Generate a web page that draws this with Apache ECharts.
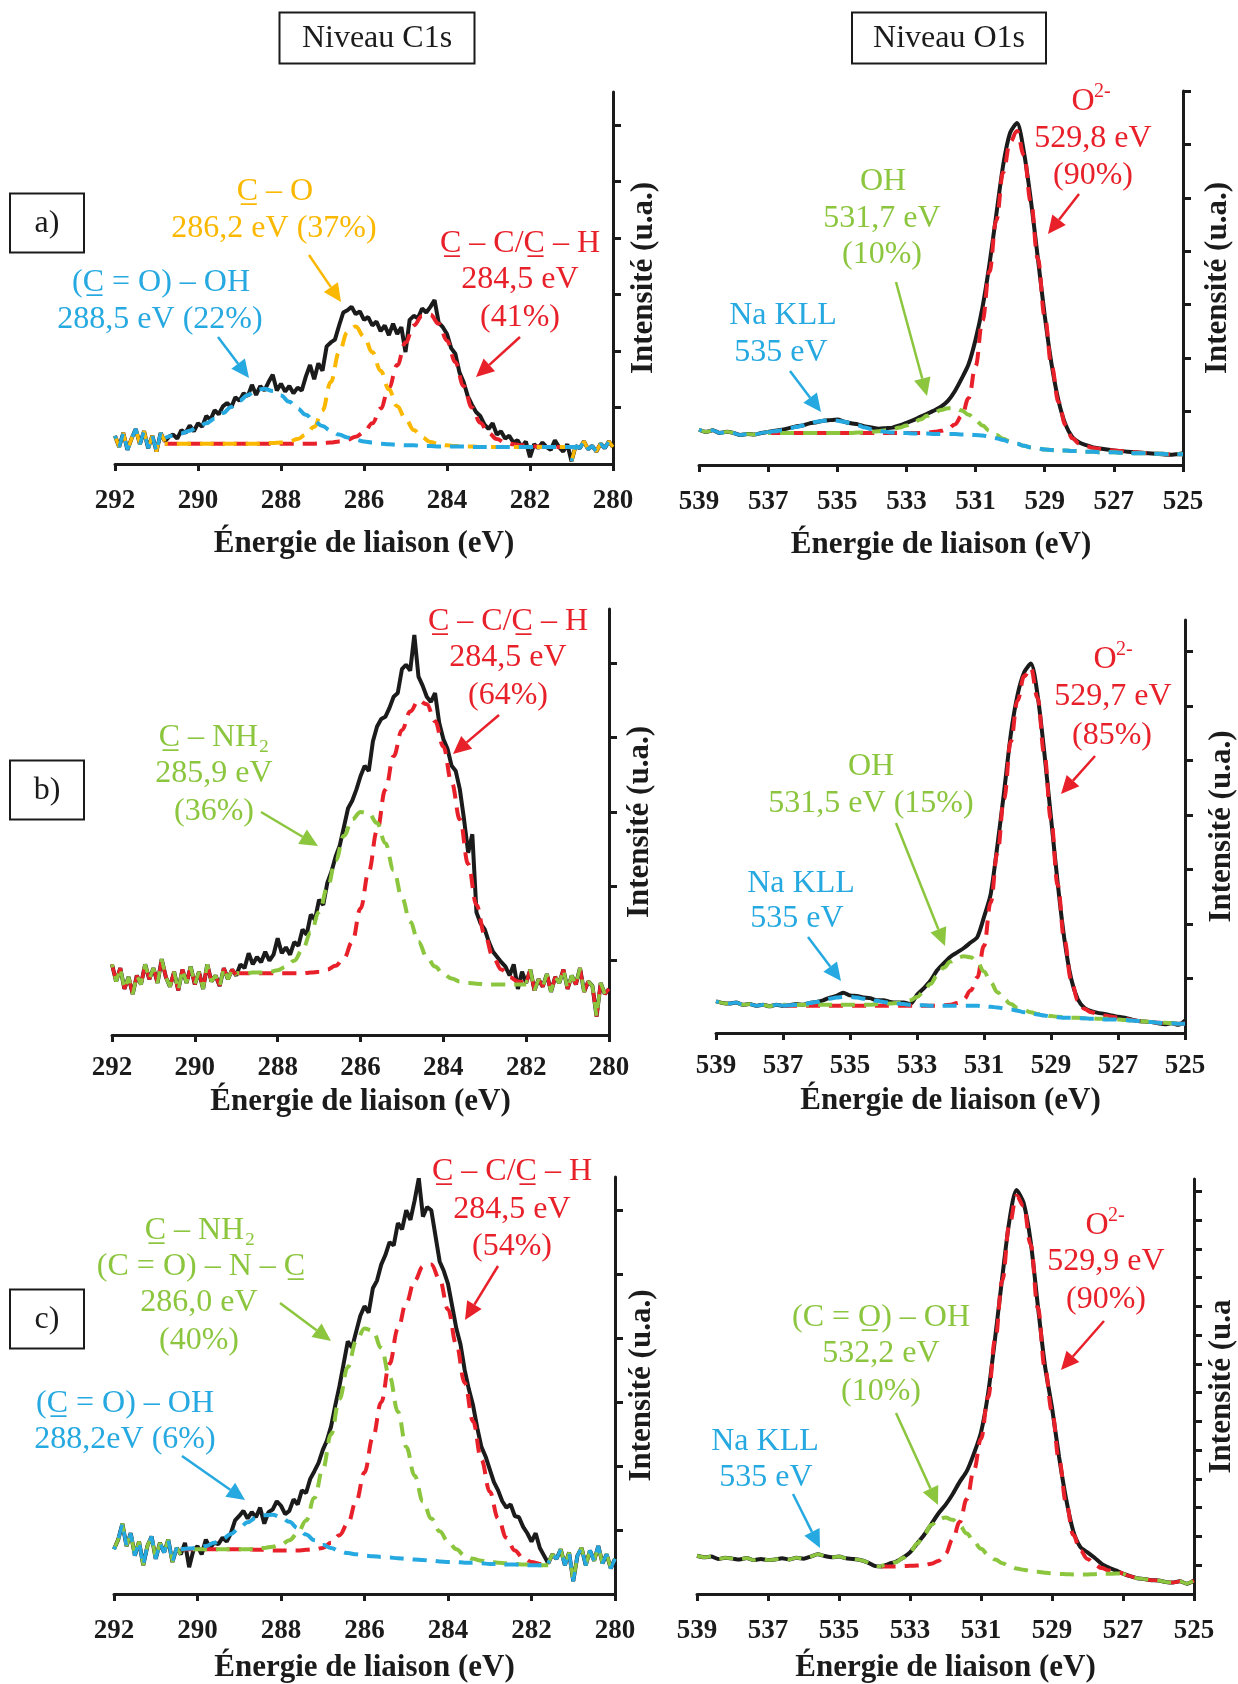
<!DOCTYPE html>
<html>
<head>
<meta charset="utf-8">
<script src="https://cdn.jsdelivr.net/npm/echarts@6/dist/echarts.min.js"></script>
<style>
  html, body { margin: 0; padding: 0; background: #fff; }
  #chart { width: 1238px; height: 1684px; }
</style>
</head>
<body>
<div id="chart"></div>
<script>
// x tick labels
const C1S_TICKS = [292, 290, 288, 286, 284, 282, 280];
const O1S_TICKS = [539, 537, 535, 533, 531, 529, 527, 525];

// ---- a) C1s : raw spectrum 292 -> 280 eV, step 0.1
const c1sA = [
  0.50, 0.30, 0.55, 0.25, 0.45, 0.62, 0.35, 0.58, 0.28, 0.50,
  0.22, 0.55, 0.40, 0.48, 0.52, 0.45, 0.60, 0.55, 0.68, 0.58,
  0.72, 0.66, 0.85, 0.78, 0.95, 0.88, 1.02, 1.08, 1.00, 1.18,
  1.12, 1.25, 1.20, 1.40, 1.22, 1.38, 1.30, 1.45, 1.58, 1.30,
  1.42, 1.28, 1.38, 1.25, 1.35, 1.30, 1.55, 1.75, 1.50, 1.78,
  1.65, 2.08, 2.15, 2.20, 2.45, 2.68, 2.72, 2.78, 2.65, 2.70,
  2.55, 2.60, 2.45, 2.52, 2.35, 2.45, 2.28, 2.48, 2.30, 2.42,
  1.98, 2.55, 2.62, 2.58, 2.75, 2.68, 2.78, 2.90, 2.50, 2.42,
  2.30, 2.05, 1.95, 1.62, 1.45, 1.20, 1.05, 0.92, 0.85, 0.70,
  0.62, 0.72, 0.52, 0.58, 0.45, 0.50, 0.38, 0.42, 0.30, 0.40,
  0.12, 0.35, 0.28, 0.38, 0.30, 0.25, 0.42, 0.30, 0.22, 0.35,
  0.05, 0.32, 0.28, 0.40, 0.26, 0.32, 0.22, 0.36, 0.28, 0.40,
  0.30
];
// fitted components 290.8 -> 280.8, step 0.2
const c1sA_COOH = [
  0.46, 0.50, 0.54, 0.59, 0.65, 0.72, 0.80, 0.90, 1.01, 1.12,
  1.22, 1.31, 1.33, 1.29, 1.21, 1.10, 0.98, 0.87, 0.76, 0.67,
  0.59, 0.52, 0.47, 0.43, 0.40, 0.38, 0.36, 0.35, 0.34, 0.33,
  0.33, 0.32, 0.32, 0.31, 0.31, 0.31, 0.31, 0.30, 0.30, 0.30,
  0.30, 0.30, 0.30, 0.30, 0.30, 0.30, 0.30, 0.30, 0.30, 0.30,
  0.30
];
const c1sA_CO = [
  0.36, 0.36, 0.36, 0.36, 0.36, 0.36, 0.36, 0.36, 0.36, 0.36,
  0.36, 0.36, 0.37, 0.37, 0.38, 0.40, 0.44, 0.52, 0.66, 0.95,
  1.45, 1.98, 2.33, 2.43, 2.25, 1.98, 1.65, 1.32, 1.02, 0.80,
  0.60, 0.47, 0.39, 0.35, 0.33, 0.32, 0.31, 0.31, 0.30, 0.30,
  0.30, 0.30, 0.30, 0.30, 0.30, 0.30, 0.30, 0.30, 0.30, 0.30,
  0.30
];
const c1sA_CC = [
  0.36, 0.36, 0.36, 0.36, 0.36, 0.36, 0.36, 0.36, 0.36, 0.36,
  0.36, 0.36, 0.36, 0.36, 0.36, 0.36, 0.36, 0.36, 0.36, 0.37,
  0.38, 0.40, 0.43, 0.48, 0.56, 0.72, 0.98, 1.35, 1.75, 2.15,
  2.45, 2.62, 2.64, 2.48, 2.18, 1.80, 1.38, 1.00, 0.73, 0.55,
  0.44, 0.38, 0.35, 0.33, 0.32, 0.31, 0.30, 0.30, 0.30, 0.30,
  0.30
];

// ---- a) O1s : raw 539 -> 525 eV, step 0.2
const o1sA = [
  0.66, 0.62, 0.65, 0.60, 0.62, 0.60, 0.56, 0.58, 0.57, 0.60,
  0.62, 0.64, 0.66, 0.69, 0.72, 0.74, 0.78, 0.80, 0.83, 0.84,
  0.85, 0.81, 0.78, 0.76, 0.72, 0.70, 0.68, 0.69, 0.70, 0.74,
  0.79, 0.84, 0.90, 0.96, 1.02, 1.09, 1.20, 1.38, 1.62, 1.89,
  2.35, 2.95, 3.75, 4.69, 5.62, 6.22, 6.40, 5.85, 4.95, 3.88,
  2.80, 1.88, 1.20, 0.76, 0.52, 0.42, 0.37, 0.33, 0.31, 0.29,
  0.27, 0.26, 0.25, 0.24, 0.23, 0.22, 0.21, 0.20, 0.19, 0.20,
  0.22
];
// components 537 -> 525, step 0.2
const o1sA_O2 = [
  0.60, 0.60, 0.60, 0.60, 0.60, 0.60, 0.60, 0.60, 0.60, 0.60,
  0.60, 0.60, 0.60, 0.60, 0.60, 0.60, 0.60, 0.60, 0.60, 0.60,
  0.60, 0.60, 0.60, 0.61, 0.62, 0.64, 0.68, 0.76, 0.92, 1.25,
  1.85, 2.70, 3.62, 4.58, 5.48, 6.05, 6.25, 5.80, 4.92, 3.86,
  2.78, 1.85, 1.18, 0.75, 0.50, 0.40, 0.35, 0.32, 0.30, 0.28,
  0.27, 0.26, 0.25, 0.24, 0.23, 0.22, 0.21, 0.21, 0.20, 0.20,
  0.20
];
const o1sA_OH = [
  0.60, 0.60, 0.60, 0.60, 0.60, 0.60, 0.60, 0.60, 0.60, 0.60,
  0.60, 0.60, 0.60, 0.61, 0.61, 0.62, 0.63, 0.65, 0.67, 0.70,
  0.74, 0.79, 0.85, 0.92, 0.98, 1.03, 1.06, 1.06, 1.02, 0.94,
  0.84, 0.74, 0.64, 0.56, 0.49, 0.44, 0.40, 0.36, 0.33, 0.31,
  0.29, 0.28, 0.27, 0.27, 0.26, 0.26, 0.25, 0.25, 0.24, 0.24,
  0.24, 0.23, 0.23, 0.22, 0.22, 0.22, 0.21, 0.21, 0.20, 0.20,
  0.20
];
const o1sA_Na = [
  0.61, 0.63, 0.65, 0.68, 0.71, 0.74, 0.78, 0.81, 0.83, 0.84,
  0.83, 0.81, 0.78, 0.74, 0.70, 0.67, 0.64, 0.62, 0.61, 0.60,
  0.60, 0.59, 0.59, 0.59, 0.58, 0.58, 0.58, 0.58, 0.57, 0.57,
  0.56, 0.55, 0.53, 0.50, 0.47, 0.43, 0.40, 0.36, 0.33, 0.31,
  0.29, 0.28, 0.27, 0.27, 0.26, 0.26, 0.25, 0.25, 0.24, 0.24,
  0.24, 0.23, 0.23, 0.22, 0.22, 0.22, 0.21, 0.21, 0.20, 0.20,
  0.20
];

// ---- b) C1s raw 292 -> 280, step 0.1
const c1sB = [
  0.95, 0.72, 0.90, 0.62, 0.78, 0.55, 0.80, 0.68, 0.95, 0.75,
  0.90, 0.70, 1.02, 0.78, 0.65, 0.85, 0.60, 0.88, 0.70, 0.92,
  0.68, 0.85, 0.62, 0.95, 0.72, 0.80, 0.66, 0.90, 0.75, 0.88,
  0.80, 0.95, 0.90, 1.10, 0.95, 1.05, 0.98, 1.12, 1.00, 1.08,
  1.30, 1.10, 1.18, 1.08, 1.25, 1.20, 1.42, 1.35, 1.62, 1.55,
  1.82, 1.75, 2.05, 2.20, 2.40, 2.55, 2.80, 3.05, 3.15, 3.30,
  3.48, 3.62, 3.55, 3.95, 4.15, 4.25, 4.28, 4.40, 4.55, 4.60,
  4.92, 4.98, 4.90, 5.38, 4.82, 4.70, 4.55, 4.48, 4.60, 4.20,
  3.98, 3.85, 3.62, 3.55, 3.30, 2.90, 2.45, 2.70, 1.65, 1.50,
  1.42, 1.25, 1.12, 1.05, 0.98, 0.92, 0.80, 0.95, 0.62, 0.85,
  0.70, 0.88, 0.60, 0.75, 0.65, 0.82, 0.58, 0.78, 0.70, 0.88,
  0.62, 0.80, 0.68, 0.90, 0.58, 0.72, 0.66, 0.25, 0.70, 0.55,
  0.62
];
// components 289 -> 282, step 0.2
const c1sB_CN = [
  0.83, 0.83, 0.84, 0.84, 0.85, 0.87, 0.92, 1.00, 1.15, 1.38,
  1.65, 1.98, 2.35, 2.68, 2.90, 3.00, 2.98, 2.85, 2.58, 2.22,
  1.85, 1.52, 1.25, 1.05, 0.92, 0.82, 0.76, 0.72, 0.70, 0.69,
  0.68, 0.68, 0.68, 0.68, 0.68, 0.68
];
const c1sB_CC = [
  0.83, 0.83, 0.83, 0.83, 0.83, 0.83, 0.83, 0.83, 0.83, 0.84,
  0.85, 0.88, 0.93, 1.03, 1.25, 1.70, 2.20, 2.75, 3.30, 3.75,
  4.10, 4.35, 4.50, 4.45, 4.22, 3.88, 3.40, 2.90, 2.30, 1.75,
  1.35, 1.05, 0.88, 0.78, 0.72, 0.70
];

// ---- b) O1s raw 539 -> 525, step 0.2
const o1sB = [
  0.58, 0.55, 0.54, 0.56, 0.52, 0.53, 0.50, 0.52, 0.49, 0.52,
  0.50, 0.51, 0.53, 0.52, 0.55, 0.57, 0.60, 0.65, 0.68, 0.74,
  0.69, 0.68, 0.65, 0.64, 0.60, 0.60, 0.57, 0.56, 0.56, 0.53,
  0.70, 0.82, 0.96, 1.15, 1.28, 1.40, 1.48, 1.56, 1.66, 1.76,
  2.13, 2.55, 3.44, 4.43, 5.48, 6.20, 6.62, 6.78, 6.20, 5.15,
  3.95, 2.75, 1.72, 1.00, 0.62, 0.46, 0.40, 0.37, 0.35, 0.32,
  0.30, 0.28, 0.25, 0.22, 0.21, 0.20, 0.18, 0.16, 0.18, 0.15,
  0.23
];
// components 537 -> 525, step 0.2
const o1sB_O2 = [
  0.50, 0.50, 0.50, 0.50, 0.50, 0.50, 0.50, 0.50, 0.50, 0.50,
  0.50, 0.50, 0.50, 0.50, 0.50, 0.50, 0.50, 0.50, 0.50, 0.50,
  0.50, 0.50, 0.50, 0.50, 0.51, 0.52, 0.55, 0.62, 0.78, 1.02,
  1.60, 2.40, 3.30, 4.30, 5.35, 6.10, 6.55, 6.70, 6.15, 5.12,
  3.92, 2.72, 1.70, 0.98, 0.60, 0.44, 0.38, 0.35, 0.32, 0.30,
  0.28, 0.26, 0.24, 0.22, 0.21, 0.20, 0.19, 0.18, 0.18, 0.17,
  0.17
];
const o1sB_OH = [
  0.52, 0.52, 0.52, 0.52, 0.52, 0.52, 0.52, 0.52, 0.52, 0.52,
  0.52, 0.52, 0.52, 0.52, 0.53, 0.53, 0.54, 0.55, 0.57, 0.60,
  0.66, 0.76, 0.90, 1.05, 1.20, 1.31, 1.38, 1.41, 1.39, 1.30,
  1.13, 0.93, 0.75, 0.62, 0.53, 0.46, 0.42, 0.38, 0.35, 0.33,
  0.31, 0.30, 0.29, 0.28, 0.28, 0.27, 0.27, 0.26, 0.26, 0.26,
  0.25, 0.24, 0.23, 0.22, 0.21, 0.20, 0.19, 0.19, 0.18, 0.18,
  0.18
];
const o1sB_Na = [
  0.50, 0.51, 0.52, 0.53, 0.55, 0.57, 0.60, 0.63, 0.65, 0.66,
  0.66, 0.65, 0.63, 0.61, 0.59, 0.57, 0.55, 0.54, 0.53, 0.52,
  0.51, 0.51, 0.50, 0.50, 0.50, 0.50, 0.50, 0.50, 0.50, 0.50,
  0.49, 0.48, 0.47, 0.45, 0.43, 0.41, 0.38, 0.36, 0.34, 0.32,
  0.30, 0.29, 0.28, 0.28, 0.27, 0.27, 0.26, 0.26, 0.25, 0.25,
  0.25, 0.24, 0.23, 0.22, 0.21, 0.20, 0.19, 0.18, 0.18, 0.17,
  0.17
];

// ---- c) C1s raw 292 -> 280, step 0.1
const c1sC = [
  0.70, 0.85, 1.10, 0.75, 0.95, 0.60, 0.82, 0.45, 0.75, 0.90,
  0.55, 0.80, 0.65, 0.85, 0.50, 0.72, 0.62, 0.80, 0.42, 0.68,
  0.75, 0.62, 0.85, 0.72, 0.80, 0.78, 0.88, 0.82, 0.95, 1.15,
  1.22, 1.30, 1.18, 1.28, 1.20, 1.35, 1.10, 1.28, 1.32, 1.45,
  1.38, 1.25, 1.30, 1.48, 1.40, 1.62, 1.58, 1.80, 1.92, 2.05,
  2.25, 2.40, 2.62, 2.95, 3.25, 3.60, 3.95, 3.85, 4.10, 4.35,
  4.50, 4.40, 4.78, 4.90, 5.15, 5.30, 5.50, 5.45, 5.80, 5.70,
  6.00, 5.85, 6.15, 6.50, 5.90, 6.05, 6.00, 5.60, 5.20, 5.05,
  4.85, 4.50, 4.15, 3.90, 3.50, 3.20, 2.95, 2.60, 2.30, 2.15,
  1.95, 1.75, 1.62, 1.45, 1.35, 1.40, 1.22, 1.20, 1.05, 0.95,
  0.82, 0.95, 0.72, 0.60, 0.48, 0.62, 0.55, 0.70, 0.45, 0.65,
  0.20, 0.60, 0.72, 0.45, 0.68, 0.52, 0.75, 0.48, 0.62, 0.40,
  0.55
];
// components 290.4 -> 281.6, step 0.2
const c1sC_COOH = [
  0.70, 0.71, 0.72, 0.75, 0.80, 0.86, 0.94, 1.03, 1.12, 1.19,
  1.23, 1.24, 1.20, 1.13, 1.03, 0.93, 0.84, 0.77, 0.72, 0.67,
  0.64, 0.62, 0.60, 0.59, 0.58, 0.57, 0.56, 0.55, 0.54, 0.53,
  0.52, 0.51, 0.50, 0.50, 0.49, 0.49, 0.48, 0.47, 0.47, 0.46,
  0.46, 0.45, 0.45, 0.45, 0.45
];
const c1sC_CN = [
  0.70, 0.70, 0.70, 0.70, 0.70, 0.70, 0.70, 0.70, 0.70, 0.71,
  0.72, 0.74, 0.77, 0.84, 0.95, 1.15, 1.50, 1.95, 2.50, 3.05,
  3.55, 3.95, 4.15, 4.12, 3.85, 3.40, 2.85, 2.30, 1.85, 1.45,
  1.18, 0.98, 0.82, 0.70, 0.60, 0.55, 0.52, 0.50, 0.49, 0.48,
  0.47, 0.46, 0.46, 0.45, 0.45
];
const c1sC_CC = [
  0.70, 0.70, 0.70, 0.70, 0.70, 0.70, 0.70, 0.70, 0.70, 0.69,
  0.69, 0.68, 0.68, 0.68, 0.68, 0.69, 0.70, 0.72, 0.80, 0.92,
  1.10, 1.45, 1.90, 2.45, 3.00, 3.60, 4.15, 4.55, 4.90, 5.12,
  5.15, 4.92, 4.45, 3.90, 3.30, 2.70, 2.10, 1.60, 1.18, 0.88,
  0.68, 0.56, 0.50, 0.47, 0.45
];

// ---- c) O1s raw 539 -> 525, step 0.2
const o1sC = [
  1.33, 1.28, 1.30, 1.22, 1.26, 1.23, 1.20, 1.25, 1.18, 1.22,
  1.18, 1.20, 1.24, 1.20, 1.26, 1.23, 1.30, 1.38, 1.32, 1.28,
  1.30, 1.24, 1.22, 1.18, 1.10, 0.98, 0.96, 1.05, 1.12, 1.26,
  1.45, 1.75, 2.06, 2.43, 2.80, 3.10, 3.47, 3.90, 4.27, 4.88,
  5.62, 6.97, 8.93, 11.02, 12.98, 14.05, 13.60, 12.25, 10.04, 7.95,
  6.48, 4.76, 3.29, 2.18, 1.63, 1.45, 1.26, 1.05, 0.92, 0.82,
  0.71, 0.62, 0.55, 0.52, 0.48, 0.47, 0.42, 0.40, 0.44, 0.36,
  0.47
];
// components 533.8 -> 527.0, step 0.2
const o1sC_COOH = [
  0.98, 1.02, 1.10, 1.25, 1.45, 1.75, 2.08, 2.40, 2.60, 2.66,
  2.58, 2.38, 2.10, 1.82, 1.57, 1.37, 1.20, 1.07, 0.97, 0.89,
  0.84, 0.80, 0.77, 0.74, 0.72, 0.70, 0.69, 0.68, 0.68, 0.68,
  0.69, 0.70, 0.70, 0.71, 0.71
];
const o1sC_O2 = [
  0.96, 0.96, 0.96, 0.97, 0.98, 0.99, 1.01, 1.05, 1.15, 1.40,
  1.90, 2.50, 3.30, 4.30, 5.40, 6.85, 8.85, 10.90, 12.85, 13.85,
  13.50, 12.15, 9.95, 7.85, 6.35, 4.65, 3.15, 2.05, 1.50, 1.22,
  1.02, 0.90, 0.82, 0.76, 0.71
];

const BLACK = '#1b1b1b', RED = '#e8202a', YEL = '#fbb800', BLUE = '#26a9e0', GREEN = '#8cc63f';
const SERIF = '"Liberation Serif", "Times New Roman", serif';

function pts(start, step, vals) {
  return vals.map((v, i) => [Math.round((start - i * step) * 100) / 100, v]);
}
function cut(data, hi, lo) {
  return data.filter(p => p[0] <= hi + 1e-6 && p[0] >= lo - 1e-6);
}

const panels = [
  { grid: { left: 115, top: 92, width: 498, height: 372 }, range: [280, 292], ticks: C1S_TICKS,
    yMax: 6.58, yTicks: [1, 2, 3, 4, 5, 6], margin: 24, nameGap: 64, yName: 'Intensité (u.a.)', yNameGap: 15,
    black: pts(292, 0.1, c1sA), smooth: false,
    comps: [[pts(290.8, 0.2, c1sA_CC), RED, 0], [pts(290.8, 0.2, c1sA_CO), YEL, 11], [pts(290.8, 0.2, c1sA_COOH), BLUE, 6]],
    edges: [[292, 290.8, [YEL, BLUE]], [281, 280, [YEL, BLUE]]] },
  { grid: { left: 699, top: 91, width: 484, height: 374 }, range: [525, 539], ticks: O1S_TICKS,
    yMax: 7.0, yTicks: [1, 2, 3, 4, 5, 6, 7], margin: 24, nameGap: 64, yName: 'Intensité (u.a.)', yNameGap: 19,
    black: pts(539, 0.2, o1sA), smooth: 0.25,
    comps: [[pts(537, 0.2, o1sA_O2), RED, 0], [pts(537, 0.2, o1sA_OH), GREEN, 11], [pts(537, 0.2, o1sA_Na), BLUE, 0]],
    edges: [[539, 537, [GREEN, BLUE]]] },
  { grid: { left: 112, top: 609, width: 497, height: 426 }, range: [280, 292], ticks: C1S_TICKS,
    yMax: 5.73, yTicks: [1, 2, 3, 4, 5], margin: 20, nameGap: 51, yName: 'Intensité (u.a.)', yNameGap: 15,
    black: pts(292, 0.1, c1sB), smooth: false,
    comps: [[pts(289, 0.2, c1sB_CC), RED, 0], [pts(289, 0.2, c1sB_CN), GREEN, 11]],
    edges: [[292, 289, [RED, GREEN]], [282, 280, [RED, GREEN]]] },
  { grid: { left: 716, top: 620, width: 472, height: 413 }, range: [525, 539], ticks: O1S_TICKS,
    yMax: 7.58, yTicks: [1, 2, 3, 4, 5, 6, 7], margin: 20, nameGap: 52, yName: 'Intensité (u.a.)', yNameGap: 21,
    black: pts(539, 0.2, o1sB), smooth: 0.25,
    comps: [[pts(537, 0.2, o1sB_O2), RED, 0], [pts(537, 0.2, o1sB_OH), GREEN, 11], [pts(537, 0.2, o1sB_Na), BLUE, 0]],
    edges: [[539, 537, [GREEN, BLUE]]] },
  { grid: { left: 114, top: 1177, width: 501, height: 418 }, range: [280, 292], ticks: C1S_TICKS,
    yMax: 6.52, yTicks: [1, 2, 3, 4, 5, 6], margin: 24, nameGap: 58, yName: 'Intensité (u.a.)', yNameGap: 11,
    black: pts(292, 0.1, c1sC), smooth: false,
    comps: [[pts(290.4, 0.2, c1sC_CC), RED, 0], [pts(290.4, 0.2, c1sC_CN), GREEN, 11], [pts(290.4, 0.2, c1sC_COOH), BLUE, 0]],
    edges: [[292, 290.4, [GREEN, BLUE]], [281.6, 280, [GREEN, BLUE]]] },
  { grid: { left: 697, top: 1179, width: 500, height: 416 }, range: [525, 539], ticks: O1S_TICKS,
    yMax: 14.43, yTicks: [1, 2, 3, 4, 5, 6, 7, 8, 9, 10, 11, 12, 13, 14], margin: 24, nameGap: 58, yName: 'Intensité (u.a', yNameGap: 12,
    black: pts(539, 0.2, o1sC), smooth: 0.25,
    comps: [[pts(533.8, 0.2, o1sC_O2), RED, 0], [pts(533.8, 0.2, o1sC_COOH), GREEN, 11]],
    edges: [[539, 533.8, [GREEN]], [527, 525, [RED, GREEN]]] }
];

const grids = [], xAxes = [], yAxes = [], series = [];
const DASH = [14, 9];

panels.forEach((p, i) => {
  grids.push(p.grid);
  xAxes.push({
    gridIndex: i, type: 'value', min: p.range[0], max: p.range[1], inverse: true,
    axisLine: { onZero: false, lineStyle: { color: BLACK, width: 3 } },
    axisTick: { customValues: p.ticks, length: 7, lineStyle: { color: BLACK, width: 3 } },
    axisLabel: { customValues: p.ticks, margin: p.margin, color: BLACK, fontFamily: SERIF, fontWeight: 'bold', fontSize: 27 },
    splitLine: { show: false },
    name: 'Énergie de liaison (eV)', nameLocation: 'middle', nameGap: p.nameGap,
    nameTextStyle: { color: BLACK, fontFamily: SERIF, fontWeight: 'bold', fontSize: 31 }
  });
  yAxes.push({
    gridIndex: i, type: 'value', position: 'right', min: 0, max: p.yMax,
    axisLine: { show: true, onZero: false, lineStyle: { color: BLACK, width: 3 } },
    axisTick: { show: true, customValues: p.yTicks, length: 8, lineStyle: { color: BLACK, width: 3 } },
    axisLabel: { show: false },
    splitLine: { show: false },
    name: p.yName, nameLocation: 'middle', nameRotate: 90, nameGap: p.yNameGap,
    nameTextStyle: { color: BLACK, fontFamily: SERIF, fontWeight: 'bold', fontSize: 31 }
  });
  series.push({
    type: 'line', xAxisIndex: i, yAxisIndex: i, data: p.black, symbol: 'none', smooth: p.smooth,
    lineStyle: { color: BLACK, width: 4 }, z: 2, silent: true
  });
  p.comps.forEach(c => {
    series.push({
      type: 'line', xAxisIndex: i, yAxisIndex: i, data: c[0], symbol: 'none', smooth: 0.4, smoothMonotone: 'x',
      lineStyle: { color: c[1], width: 4, type: DASH, dashOffset: c[2] }, z: 3, silent: true
    });
  });
  p.edges.forEach(e => {
    const seg = cut(p.black, e[0], e[1]);
    e[2].forEach((col, k) => {
      series.push({
        type: 'line', xAxisIndex: i, yAxisIndex: i, data: seg, symbol: 'none', smooth: p.smooth,
        lineStyle: { color: col, width: 3.5, type: DASH, dashOffset: k * 11 }, z: 4, silent: true
      });
    });
  });
});

// annotations (pixel layout)
const graphics = [];
function txt(x, y, s, color, size, align, weight) {
  graphics.push({
    type: 'text', x: x, y: y, z: 10,
    style: {
      text: s, fill: color, fontFamily: SERIF, fontSize: size || 32, fontWeight: weight || 'normal',
      align: align || 'center', verticalAlign: 'middle', textAlign: align || 'center', textVerticalAlign: 'middle'
    }
  });
}
function arrow(x1, y1, x2, y2, color) {
  const dx = x2 - x1, dy = y2 - y1, L = Math.hypot(dx, dy), ux = dx / L, uy = dy / L;
  const hl = 18, hw = 8.5, bx = x2 - ux * hl, by = y2 - uy * hl;
  graphics.push({ type: 'line', z: 10, shape: { x1: x1, y1: y1, x2: bx, y2: by }, style: { stroke: color, lineWidth: 2.5 } });
  graphics.push({ type: 'polygon', z: 10, shape: { points: [[x2, y2], [bx - uy * hw, by + ux * hw], [bx + uy * hw, by - ux * hw]] }, style: { fill: color } });
}
function box(cx, cy, w, h, s) {
  graphics.push({ type: 'rect', z: 9, shape: { x: cx - w / 2, y: cy - h / 2, width: w, height: h }, style: { fill: '#fff', stroke: BLACK, lineWidth: 2 } });
  txt(cx, cy + 1, s, BLACK, 32);
}
function oxide(x, y) {
  txt(x, y, 'O', RED, 32);
  txt(x + 11, y - 10, '2-', RED, 20, 'left');
}
const U = '\u0332';

box(377, 38, 195, 51, 'Niveau C1s');
box(949, 38, 194, 51, 'Niveau O1s');
box(47, 223, 74, 59, 'a)');
box(47, 790, 74, 59, 'b)');
box(47, 1319, 74, 59, 'c)');

// a) C1s
txt(275, 192, 'C' + U + ' – O', YEL); txt(274, 229, '286,2 eV (37%)', YEL);
arrow(309, 255, 341, 302, YEL);
txt(161, 283, '(C' + U + ' = O) – OH', BLUE); txt(160, 320, '288,5 eV (22%)', BLUE);
arrow(218, 337, 249, 378, BLUE);
txt(520, 244, 'C' + U + ' – C/C' + U + ' – H', RED); txt(520, 280, '284,5 eV', RED); txt(520, 318, '(41%)', RED);
arrow(520, 337, 476, 377, RED);
// a) O1s
oxide(1083, 102); txt(1093, 139, '529,8 eV', RED); txt(1093, 176, '(90%)', RED);
arrow(1079, 194, 1048, 234, RED);
txt(883, 182, 'OH', GREEN); txt(882, 219, '531,7 eV', GREEN); txt(882, 255, '(10%)', GREEN);
arrow(896, 282, 927, 396, GREEN);
txt(783, 316, 'Na KLL', BLUE); txt(781, 353, '535 eV', BLUE);
arrow(790, 371, 821, 412, BLUE);
// b) C1s
txt(508, 622, 'C' + U + ' – C/C' + U + ' – H', RED); txt(508, 658, '284,5 eV', RED); txt(508, 696, '(64%)', RED);
arrow(499, 715, 453, 754, RED);
txt(214, 738, 'C' + U + ' – NH₂', GREEN); txt(214, 774, '285,9 eV', GREEN); txt(214, 812, '(36%)', GREEN);
arrow(261, 812, 318, 846, GREEN);
// b) O1s
oxide(1105, 660); txt(1113, 697, '529,7 eV', RED); txt(1112, 736, '(85%)', RED);
arrow(1095, 756, 1061, 794, RED);
txt(871, 767, 'OH', GREEN); txt(871, 804, '531,5 eV (15%)', GREEN);
arrow(896, 823, 945, 946, GREEN);
txt(801, 884, 'Na KLL', BLUE); txt(797, 919, '535 eV', BLUE);
arrow(808, 937, 841, 981, BLUE);
// c) C1s
txt(512, 1172, 'C' + U + ' – C/C' + U + ' – H', RED); txt(512, 1210, '284,5 eV', RED); txt(512, 1247, '(54%)', RED);
arrow(498, 1266, 465, 1320, RED);
txt(200, 1231, 'C' + U + ' – NH₂', GREEN); txt(201, 1267, '(C = O) – N – C' + U, GREEN);
txt(199, 1303, '286,0 eV', GREEN); txt(199, 1341, '(40%)', GREEN);
arrow(280, 1303, 331, 1341, GREEN);
txt(125, 1404, '(C' + U + ' = O) – OH', BLUE); txt(125, 1440, '288,2eV (6%)', BLUE);
arrow(182, 1456, 245, 1500, BLUE);
// c) O1s
oxide(1097, 1226); txt(1106, 1262, '529,9 eV', RED); txt(1106, 1300, '(90%)', RED);
arrow(1104, 1321, 1061, 1370, RED);
txt(881, 1318, '(C = O' + U + ') – OH', GREEN); txt(881, 1354, '532,2 eV', GREEN); txt(881, 1392, '(10%)', GREEN);
arrow(896, 1413, 938, 1505, GREEN);
txt(765, 1442, 'Na KLL', BLUE); txt(766, 1478, '535 eV', BLUE);
arrow(793, 1494, 820, 1548, BLUE);

const chart = echarts.init(document.getElementById('chart'), null, { renderer: 'canvas' });
chart.setOption({
  animation: false,
  backgroundColor: '#fff',
  textStyle: { fontFamily: SERIF },
  grid: grids,
  xAxis: xAxes,
  yAxis: yAxes,
  series: series,
  graphic: graphics
});
</script>
</body>
</html>
